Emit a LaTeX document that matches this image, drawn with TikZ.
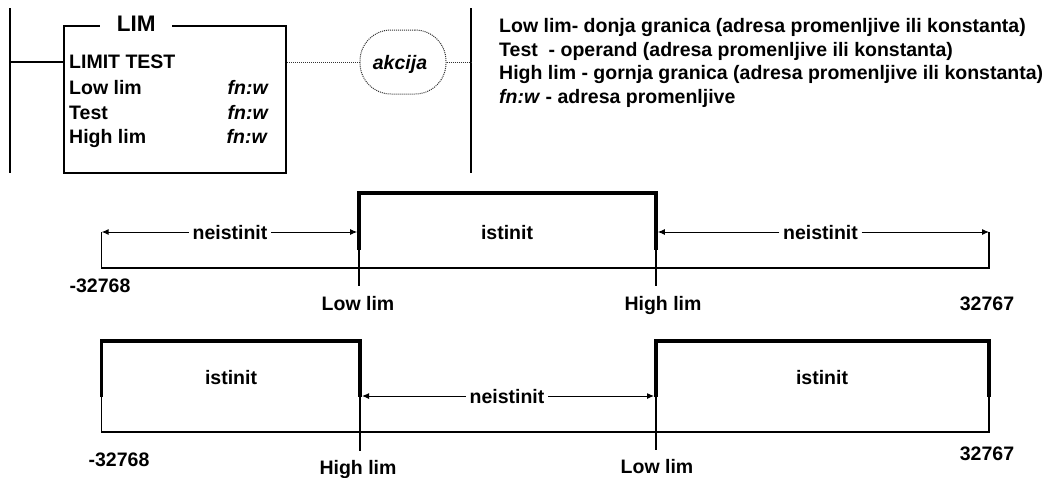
\documentclass[tikz,border=0pt]{standalone}
\usepackage{fontspec}
\setmainfont{Liberation Sans}
\usetikzlibrary{arrows.meta}
\begin{document}
\begin{tikzpicture}[x=1pt,y=-1pt,
  font=\bfseries\fontsize{19.5}{23.5}\selectfont,
  rail/.style={line width=2.2pt},
  wire/.style={line width=1.3pt},
  dotwire/.style={line width=1pt, dash pattern=on 1pt off 1pt, black!80},
  thickline/.style={line width=3.5pt},
  thinline/.style={line width=1.3pt},
  arr/.style={line width=1pt, -{Latex[length=7pt,width=6pt]}},
  lbl/.style={inner sep=0pt, anchor=base},
  dimlbl/.style={inner xsep=3.5pt, inner ysep=0pt, anchor=base}]
\useasboundingbox (0,0) rectangle (1051,477);

% ---------- ladder rung ----------
\coordinate (lrt) at (10,8);
\coordinate (lrb) at (10,173);
\coordinate (rrt) at (471,8);
\coordinate (rrb) at (471,173);
\draw[rail] (lrt) -- (lrb);
\draw[rail] (rrt) -- (rrb);

\node[draw, line width=2pt, minimum width=222pt, minimum height=147pt, inner sep=0pt] (lim) at (175,99.5) {};
\node[fill=white, inner xsep=16.5pt, inner ysep=0pt, anchor=base,
      font=\bfseries\fontsize{22.5}{27}\selectfont] (title) at (136.3,31.7) {LIM};

\node[lbl, anchor=base west] (lt) at (69,68.5) {LIMIT TEST};
\node[lbl, anchor=base west] (ll) at (69,94.3) {Low lim};
\node[lbl, anchor=base west] (ts) at (69,119.3) {Test};
\node[lbl, anchor=base west] (hl) at (69,143.3) {High lim};
\node[lbl, anchor=base east] (f1) at (268,94.3) {\itshape fn:w};
\node[lbl, anchor=base east] (f2) at (268,119.3) {\itshape fn:w};
\node[lbl, anchor=base east] (f3) at (267,143.3) {\itshape fn:w};

\coordinate (rl) at (10,62);
\draw[wire] (rl) -- (rl -| lim.west);

\node[draw, line width=1pt, dash pattern=on 1pt off 1pt, draw=black!80,
      rounded corners=31pt, minimum width=86pt, minimum height=64pt, inner sep=0pt] (ak) at (403,62) {};
\node[lbl] (akt) at (400,69.5) {\itshape akcija};
\draw[dotwire] (lim.east |- ak.west) -- (ak.west);
\draw[dotwire] (ak.east) -- (ak.east -| rrt);

% ---------- legend ----------
\node[lbl, anchor=base west] (t1) at (499,32.7) {Low lim- donja granica (adresa promenljive ili konstanta)};
\node[lbl, anchor=base west] (t2) at (499,56.2) {Test\ \ - operand (adresa promenljive ili konstanta)};
\node[lbl, anchor=base west] (t3) at (499,79.7) {High lim - gornja granica (adresa promenljive ili konstanta)};
\node[lbl, anchor=base west] (t4) at (499,103.2) {\textit{fn:w} - adresa promenljive};

% ---------- diagram 1 ----------
\coordinate (a1) at (101.7,268);
\coordinate (a1t) at (101.7,232);
\coordinate (b1) at (989,268);
\coordinate (b1t) at (989,232);
\coordinate (l1b) at (359,250);
\coordinate (l1t) at (359,193);
\coordinate (l1low) at (359,286);
\coordinate (h1b) at (656,250);
\coordinate (h1t) at (656,193);
\coordinate (h1low) at (656,286);
\coordinate (l1a) at (357.2,232);
\coordinate (h1a) at (657.8,232);

\draw[thinline] (a1t) -- (a1) -- (b1) -- (b1t);
\draw[thinline] (l1b) -- (l1low);
\draw[thinline] (h1b) -- (h1low);
\draw[thickline, line join=miter] (l1b) -- (l1t) -- (h1t) -- (h1b);

\node[dimlbl] (n1) at (230,239) {neistinit};
\draw[arr] (n1.west |- a1t) -- (a1t);
\draw[arr] (n1.east |- l1a) -- (l1a);
\node[dimlbl] (n2) at (820.5,239) {neistinit};
\draw[arr] (n2.west |- h1a) -- (h1a);
\draw[arr] (n2.east |- b1t) -- (b1t);
\node[lbl] (i1) at (507,239) {istinit};

\node[lbl] (m1) at (100,292) {-32768};
\node[lbl] (lo1) at (358,310.7) {Low lim};
\node[lbl] (hi1) at (663,310.7) {High lim};
\node[lbl] (p1) at (987,310.7) {32767};

% ---------- diagram 2 ----------
\coordinate (a2) at (101.7,432);
\coordinate (a2m) at (101.7,397);
\coordinate (a2t) at (101.7,341);
\coordinate (h2t) at (360,341);
\coordinate (h2m) at (360,397);
\coordinate (h2low) at (360,451);
\coordinate (l2t) at (656,341);
\coordinate (l2m) at (656,397);
\coordinate (l2low) at (656,450);
\coordinate (b2t) at (989,341);
\coordinate (b2m) at (989,397);
\coordinate (b2) at (989,432);
\coordinate (h2a) at (362,396);
\coordinate (l2a) at (654,396);

\draw[thinline] (a2m) -- (a2) -- (b2) -- (b2m);
\draw[thinline] (h2m) -- (h2low);
\draw[thinline] (l2m) -- (l2low);
\draw[thickline, line join=miter] (a2m) -- (a2t) -- (h2t) -- (h2m);
\draw[thickline, line join=miter] (l2m) -- (l2t) -- (b2t) -- (b2m);

\node[dimlbl] (n3) at (507,403) {neistinit};
\draw[arr] (n3.west |- h2a) -- (h2a);
\draw[arr] (n3.east |- l2a) -- (l2a);
\node[lbl] (i2) at (231,384) {istinit};
\node[lbl] (i3) at (822,384) {istinit};

\node[lbl] (m2) at (119,466) {-32768};
\node[lbl] (hi2) at (358,474) {High lim};
\node[lbl] (lo2) at (657,473) {Low lim};
\node[lbl] (p2) at (987,460) {32767};
\end{tikzpicture}
\end{document}
